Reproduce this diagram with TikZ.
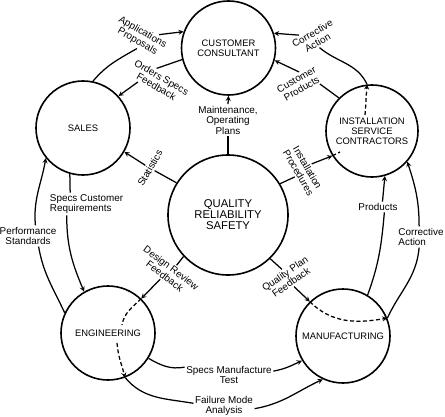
\documentclass[tikz,border=0pt]{standalone}
\usepackage{fontspec}
\setmainfont{Liberation Sans}
\usetikzlibrary{arrows}
\tikzset{
  unit/.style={circle, draw, line width=1.6pt, minimum size=94pt, inner sep=0pt,
    align=center, font=\fontsize{9.4}{10}\selectfont},
  core/.style={unit, minimum size=120pt, font=\fontsize{11.3}{11}\selectfont},
  tag/.style={align=center, inner sep=1.5pt, font=\fontsize{9.9}{10.5}\selectfont},
  link/.style={line width=1.25pt},
  dashlink/.style={link, dash pattern=on 4pt off 2.5pt},
}
\begin{document}
\begin{tikzpicture}[x=10pt, y=10pt]
      \useasboundingbox (0,0) rectangle (44.5,41.6);

      % the six offices
      \node[unit] at (22.85,36.8) (cust) {CUSTOMER\\CONSULTANT};
      \node[unit] at (8.3,28.8) (sales) {SALES};
      \node[unit, minimum size=92pt] at (37.2,28.5) (inst) {INSTALLATION\\SERVICE\\CONTRACTORS};
      \node[core] at (22.8,20.1) (qual) {QUALITY\\RELIABILITY\\SAFETY};
      \node[unit] at (10.8,8.3) (eng) {ENGINEERING};
      \node[unit] at (34.3,8.0) (manu) {MANUFACTURING};

      % what flows between them
      \node[tag, rotate=-30] at (14.0,37.9) (appl) {Applications\\Proposals};
      \node[tag, rotate=-30] at (15.9,33.4) (ord) {Orders Specs\\Feedback};
      \node[tag] at (22.8,29.6) (maint) {Maintenance,\\Operating\\Plans};
      \node[tag, rotate=30] at (29.9,33.2) (cprod) {Customer\\Products};
      \node[tag, rotate=30] at (31.5,37.8) (corrA) {Corrective\\Action};
      \node[tag, rotate=-60] at (30.3,24.6) (instp) {Installation\\Procedures};
      \node[tag, rotate=60] at (15.0,24.8) (stat) {Statistics};
      \node[tag, align=left] at (8.65,21.2) (specsC) {Specs Customer\\Requirements};
      \node[tag] at (2.8,18.0) (perf) {Performance\\Standards};
      \node[tag, rotate=-37] at (16.8,14.4) (design) {Design Review\\Feedback};
      \node[tag] at (22.9,4.1) (specsM) {Specs Manufacture\\Test};
      \node[tag] at (22.4,1.0) (fail) {Failure Mode\\Analysis};
      \node[tag, rotate=35] at (28.8,13.8) (qplan) {Quality Plan\\Feedback};
      \node[tag, align=left] at (42.1,17.9) (corrB) {Corrective\\Action};
      \node[tag] at (37.8,20.9) (prod) {Products};

      \coordinate (ip1) at (34.0,26.4);
      \coordinate (ip2) at (36.5,30.1);
      \coordinate (e1) at (12.2,9.1);
      \coordinate (e2) at (11.7,7.3);

      \draw[link] (sales.78) to[out=50,in=210] (appl.-75);
      \draw[link,-stealth] (appl.37) -- (cust.160);
      \draw[link] (cust.194) -- (ord.130);
      \draw[link,-stealth] (ord.210) -- (sales.42);
      \draw[link] (qual.north) -- (maint.south);
      \draw[link,-stealth] (maint.north) -- (cust.south);
      \draw[link] (inst.135) -- (cprod.-30);
      \draw[link,-stealth] (cprod.60) -- (cust.-15);
      \draw[link] (inst.96) to[out=115,in=-40] (corrA.-95);
      \draw[link,-stealth] (corrA.140) -- (cust.18);

      \draw[link] (qual.31) -- (instp.-80);
      \draw[link,-stealth] (instp.95) -- (inst.212);
      \draw[dashlink] (inst.212) -- (ip1);
      \draw[dashlink,-stealth] (ip2) to[out=85,in=-95] (inst.96);

      \draw[link] (qual.148) -- (stat.south);
      \draw[link,-stealth] (stat.north) -- (sales.-30);
      \draw[link] (sales.254) -- (specsC.145);
      \draw[link,-stealth] (specsC.210) to[out=-90,in=113] (eng.120);
      \draw[link] (eng.155) to[out=115,in=-80] (perf.-45);
      \draw[link,-stealth] (perf.55) to[out=95,in=-100] (sales.219);

      \draw[link] (qual.223) -- (design.75);
      \draw[link,-stealth] (design.-100) -- (eng.46);
      \draw[dashlink] (eng.46) to[out=225,in=80] (e1);
      \draw[dashlink,-stealth] (e2) to[out=-85,in=105] (eng.-69);
      \draw[link] (eng.-32) to[out=-30,in=190] (specsM.170);
      \draw[link,-stealth] (specsM.5) to[out=10,in=205] (manu.211);
      \draw[link] (eng.-69) to[out=-50,in=170] (fail.175);
      \draw[link,-stealth] (fail.-5) to[out=10,in=205] (manu.245);

      \draw[link] (qual.-46) -- (qplan.north);
      \draw[link,-stealth] (qplan.south) -- (manu.134);
      \draw[dashlink,-stealth] (manu.134) to[out=-45,in=190] (manu.22);
      \draw[link] (manu.22) to[out=65,in=-95] (corrB.-100);
      \draw[link,-stealth] (corrB.100) to[out=90,in=-72] (inst.-41);
      \draw[link] (manu.59) to[out=70,in=-95] (prod.-40);
      \draw[link,-stealth] (prod.50) -- (inst.-74);
\end{tikzpicture}
\end{document}
